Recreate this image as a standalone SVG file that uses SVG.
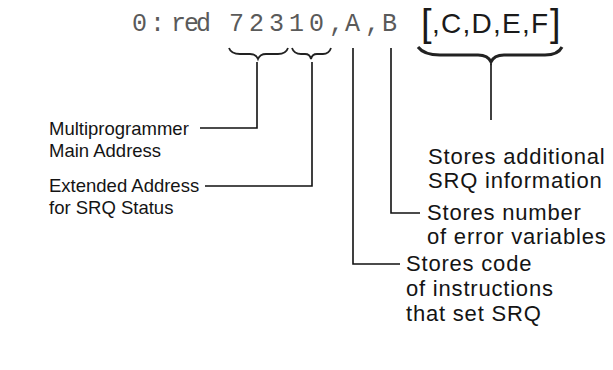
<svg xmlns="http://www.w3.org/2000/svg" width="613" height="370" viewBox="0 0 613 370">
<style>
  .lbl { font-family: "Liberation Sans", Arial, sans-serif; font-size: 18.5px; fill: #141414; }
  .lblr { font-family: "Liberation Sans", Arial, sans-serif; font-size: 22px; fill: #141414; letter-spacing: 0.8px; }
  .dot { font-family: "Liberation Mono", "DejaVu Sans Mono", monospace; font-size: 25px; fill: #5a5a5a; }
  .big { font-family: "Liberation Sans", Arial, sans-serif; font-size: 28px; fill: #1a1a1a; }
  .brk { font-family: "Liberation Sans", Arial, sans-serif; font-size: 38px; fill: #1a1a1a; }
  .ln { fill: none; stroke: #111; stroke-width: 1.6; }
  .brace { fill: none; stroke: #222; stroke-width: 1.8; }
  .bigbrace { fill: none; stroke: #222; stroke-width: 3; }
</style>
<rect width="613" height="370" fill="#fff"/>
<g id="statement">
  <text class="dot" x="132 150 171 184 196 229 249 269 289 309 329 345 365 382" y="31">0:red72310,A,B</text>
  <text class="brk" x="421" y="36">[</text>
  <text class="big" x="432" y="33" textLength="116" lengthAdjust="spacing">,C,D,E,F</text>
  <text class="brk" x="550" y="36">]</text>
</g>
<g id="connectors">
  <path class="brace" d="M229,48 Q231,54 240,54 L250,54 Q256,54 258,59 Q260,54 266,54 L278,54 Q286,54 288,48"/>
  <path class="brace" d="M292,48 Q294,54 301,54 L305,54 Q310,54 311,59 Q312,54 317,54 L323,54 Q329,54 331,48"/>
  <path class="bigbrace" d="M418,47 Q424,55 440,55 L478,55 Q488,55 491,62 Q494,55 504,55 L545,55 Q558,55 562,47"/>
  <path class="ln" d="M257,62 V128 H200"/>
  <path class="ln" d="M312,62 V186 H205"/>
  <path class="ln" d="M353,48 V264 H400"/>
  <path class="ln" d="M391,48 V213 H420"/>
  <path class="ln" d="M491,64 V120"/>
</g>
<g id="main-address">
  <text class="lbl" x="49" y="135">Multiprogrammer</text>
  <text class="lbl" x="49" y="157">Main Address</text>
</g>
<g id="extended-address">
  <text class="lbl" x="49" y="192">Extended Address</text>
  <text class="lbl" x="49" y="214">for SRQ Status</text>
</g>
<g id="additional-info">
  <text class="lblr" x="428" y="164">Stores additional</text>
  <text class="lblr" x="428" y="188">SRQ information</text>
</g>
<g id="error-variables">
  <text class="lblr" x="427" y="220">Stores number</text>
  <text class="lblr" x="427" y="244">of error variables</text>
</g>
<g id="srq-code">
  <text class="lblr" x="406" y="271">Stores code</text>
  <text class="lblr" x="406" y="296">of instructions</text>
  <text class="lblr" x="406" y="321">that set SRQ</text>
</g>
</svg>
